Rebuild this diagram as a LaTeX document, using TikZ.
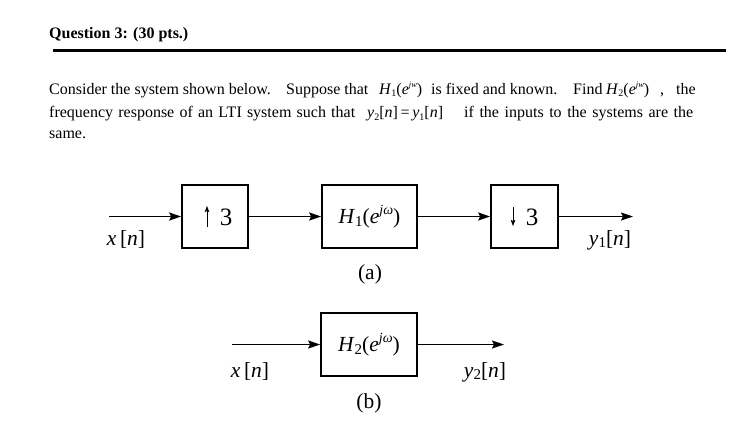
\documentclass[tikz,border=0pt]{standalone}
\usepackage{fontspec}
\setmainfont{Liberation Serif}
\usetikzlibrary{arrows.meta}
\newcommand\sbx[1]{\raisebox{-0.35ex}{\fontsize{10}{10}\selectfont #1}}
\newcommand\spx[1]{\raisebox{0.85ex}{\fontsize{8.5}{8.5}\selectfont\itshape #1}}
\newcommand\Hjw[1]{\textit{H}\sbx{#1}(\textit{e}\spx{jw})}
\newcommand\dsb[1]{\raisebox{-0.3ex}{\fontsize{15}{15}\selectfont #1}}
\newcommand\dsp[1]{\raisebox{0.85ex}{\fontsize{14}{14}\selectfont\itshape #1}}
\begin{document}
\begin{tikzpicture}[x=1pt,y=-1pt,
  para/.style={anchor=base west,inner sep=0pt,font=\fontsize{16}{20}\selectfont},
  blk/.style={draw,line width=1.7pt,minimum height=63pt,inner sep=0pt,font=\fontsize{21.5}{24}\selectfont},
  lbl/.style={anchor=base,inner sep=0pt,font=\fontsize{21.5}{24}\selectfont},
  conn/.style={line width=1.7pt,-{Stealth[length=12pt,width=8pt,inset=2pt]}},
  tinyarr/.style={line width=0.8pt,-{Stealth[length=6pt,width=4.5pt,inset=1pt]}}]
\useasboundingbox (0,0) rectangle (743,440);
% title and rule
\node[para,font=\fontsize{16}{20}\selectfont\bfseries] (title) at (49,38) {Question 3: (30 pts.)};
\coordinate (ruleL) at (53,50.5);
\coordinate (ruleR) at (726,50.5);
\draw[line width=3.5pt] (ruleL) -- (ruleR);
% paragraph, line 1
\node[para] (l1a) at (49,94) {Consider the system shown below.};
\node[para] (l1b) at (286,94) {Suppose that};
\node[para] (l1c) at (379,94) {\Hjw{1}};
\node[para] (l1d) at (431,94) {is fixed and known.};
\node[para] (l1e) at (573,94) {Find};
\node[para] (l1f) at (606,94) {\Hjw{2}};
\node[para] (l1g) at (660,94) {,};
\node[para] (l1h) at (676,94) {the};
% line 2
\node[para] (l2a) at (49,117.5) {\makebox[306pt][s]{frequency response of an LTI system such that}};
\node[para] (l2b) at (367,117.5) {\textit{y}\sbx{2}[\textit{n}]\,=\,\textit{y}\sbx{1}[\textit{n}]};
\node[para] (l2c) at (464,117.5) {\makebox[229pt][s]{if the inputs to the systems are the}};
% line 3
\node[para] (l3) at (49,138) {same.};
% diagram (a)
\node[blk,minimum width=66pt] (up) at (215,216.5) {};
\node[blk,minimum width=95pt] (h1) at (369.5,216.5) {\textit{H}\dsb{1}(\textit{e}\dsp{jω})};
\node[blk,minimum width=67pt] (dn) at (524.5,216.5) {};
\node[lbl,font=\fontsize{25}{26}\selectfont] (up3) at (226,225) {3};
\node[lbl,font=\fontsize{25}{26}\selectfont] (dn3) at (532,225) {3};
\coordinate (upa) at (207,227);
\coordinate (upb) at (207,206);
\coordinate (dna) at (513,207);
\coordinate (dnb) at (513,226);
\draw[tinyarr] (upa) -- (upb);
\draw[tinyarr] (dna) -- (dnb);
\coordinate (inA) at (109,216.5);
\coordinate (outA) at (633,216.5);
\draw[conn] (inA) -- (up);
\draw[conn] (up) -- (h1);
\draw[conn] (h1) -- (dn);
\draw[conn] (dn) -- (outA);
\node[lbl] (xa) at (126,245) {\textit{x}\,[\textit{n}]};
\node[lbl] (ya) at (610,245) {\textit{y}\dsb{1}[\textit{n}]};
\node[lbl] (capa) at (370,279) {(a)};
% diagram (b)
\node[blk,minimum width=96pt] (h2) at (369,344.5) {\textit{H}\dsb{2}(\textit{e}\dsp{jω})};
\coordinate (inB) at (232,344.5);
\coordinate (outB) at (504,344.5);
\draw[conn] (inB) -- (h2);
\draw[conn] (h2) -- (outB);
\node[lbl] (xb) at (250,377) {\textit{x}\,[\textit{n}]};
\node[lbl] (yb) at (485,377) {\textit{y}\dsb{2}[\textit{n}]};
\node[lbl] (capb) at (369,408) {(b)};
\end{tikzpicture}
\end{document}
